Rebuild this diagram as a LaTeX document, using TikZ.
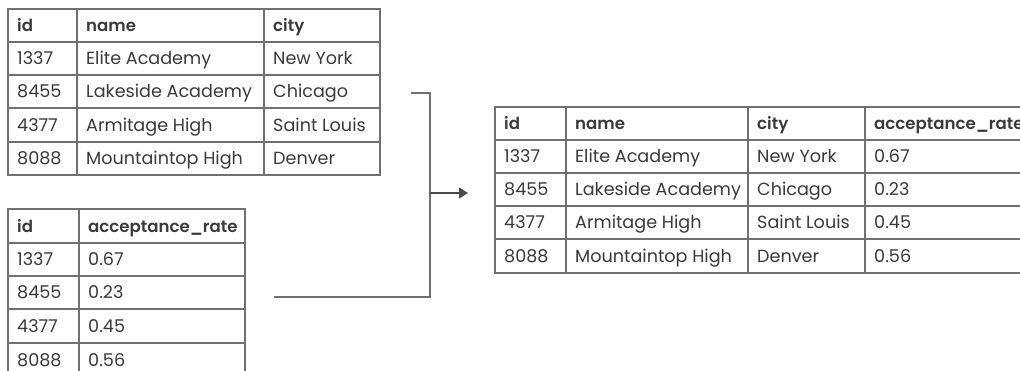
\documentclass[tikz,border=0pt]{standalone}
\usepackage{fontspec}
\setmainfont{Poppins}[BoldFont={Poppins SemiBold}]
\usetikzlibrary{arrows.meta}
\definecolor{rule}{HTML}{707070}
\definecolor{ink}{HTML}{3A3A3A}
\definecolor{arrowink}{HTML}{4A4A4A}
\begin{document}
\begin{tikzpicture}[x=1pt,y=-1pt,
  grid/.style={draw=rule, line width=1.1pt},
  cell/.style={anchor=base west, inner sep=0pt, text=ink,
    font=\fontsize{17.6}{20}\selectfont},
  head/.style={cell, font=\fontsize{16.6}{20}\selectfont\bfseries},
  link/.style={draw=rule, line width=1.1pt},
]
\useasboundingbox (0,0) rectangle (1020,371);
\clip (0,0) rectangle (1020,371);

% ---- schools: id, name, city ----
\draw[grid] (8,9) rectangle (380,175);
\foreach \y in {42,75,108,142} \draw[grid] (8,\y) -- (380,\y);
\foreach \x in {77,264} \draw[grid] (\x,9) -- (\x,175);
\node[head] (sh1) at (17,32) {id};
\node[head] (sh2) at (86,32) {name};
\node[head] (sh3) at (273,32) {city};
\foreach \r/\yc/\a/\b/\c in {1/58.5/1337/Elite Academy/New York,
                             2/91.5/8455/Lakeside Academy/Chicago,
                             3/125/4377/Armitage High/Saint Louis,
                             4/158.5/8088/Mountaintop High/Denver}{
  \node[cell] (s\r a) at (17,\yc+6.5) {\a};
  \node[cell] (s\r b) at (86,\yc+6.5) {\b};
  \node[cell] (s\r c) at (273,\yc+6.5) {\c};
}

% ---- rates: id, acceptance_rate ----
\draw[grid] (8,209) rectangle (245,376);
\foreach \y in {243,276,309,343} \draw[grid] (8,\y) -- (245,\y);
\draw[grid] (79,209) -- (79,376);
\node[head] (rh1) at (17,232.5) {id};
\node[head] (rh2) at (88,232.5) {acceptance\_rate};
\foreach \r/\yc/\a/\b in {1/259.5/1337/0.67,
                          2/292.5/8455/0.23,
                          3/326/4377/0.45,
                          4/359.5/8088/0.56}{
  \node[cell] (r\r a) at (17,\yc+6.5) {\a};
  \node[cell] (r\r b) at (88,\yc+6.5) {\b};
}

% ---- joined result ----
\draw[grid] (495,107) rectangle (1045,273);
\foreach \y in {140,173,206,239} \draw[grid] (495,\y) -- (1045,\y);
\foreach \x in {566,748,865} \draw[grid] (\x,107) -- (\x,273);
\node[head] (jh1) at (504,130) {id};
\node[head] (jh2) at (575,130) {name};
\node[head] (jh3) at (757,130) {city};
\node[head] (jh4) at (874,130) {acceptance\_rate};
\foreach \r/\yc/\a/\b/\c/\d in {1/156.5/1337/Elite Academy/New York/0.67,
                                2/189.5/8455/Lakeside Academy/Chicago/0.23,
                                3/222.5/4377/Armitage High/Saint Louis/0.45,
                                4/256/8088/Mountaintop High/Denver/0.56}{
  \node[cell] (j\r a) at (504,\yc+6.5) {\a};
  \node[cell] (j\r b) at (575,\yc+6.5) {\b};
  \node[cell] (j\r c) at (757,\yc+6.5) {\c};
  \node[cell] (j\r d) at (874,\yc+6.5) {\d};
}

% ---- join connector ----
\coordinate (fromschools) at (411,93);
\coordinate (fromrates) at (274,297);
\coordinate (merge) at (430,193);
\coordinate (intojoin) at (468,193);
\draw[link] (fromschools) -| (merge);
\draw[link] (fromrates) -| (merge);
\draw[draw=arrowink, line width=1.1pt, -{Triangle[length=9pt,width=11pt]}] (merge) -- (intojoin);
\end{tikzpicture}
\end{document}
